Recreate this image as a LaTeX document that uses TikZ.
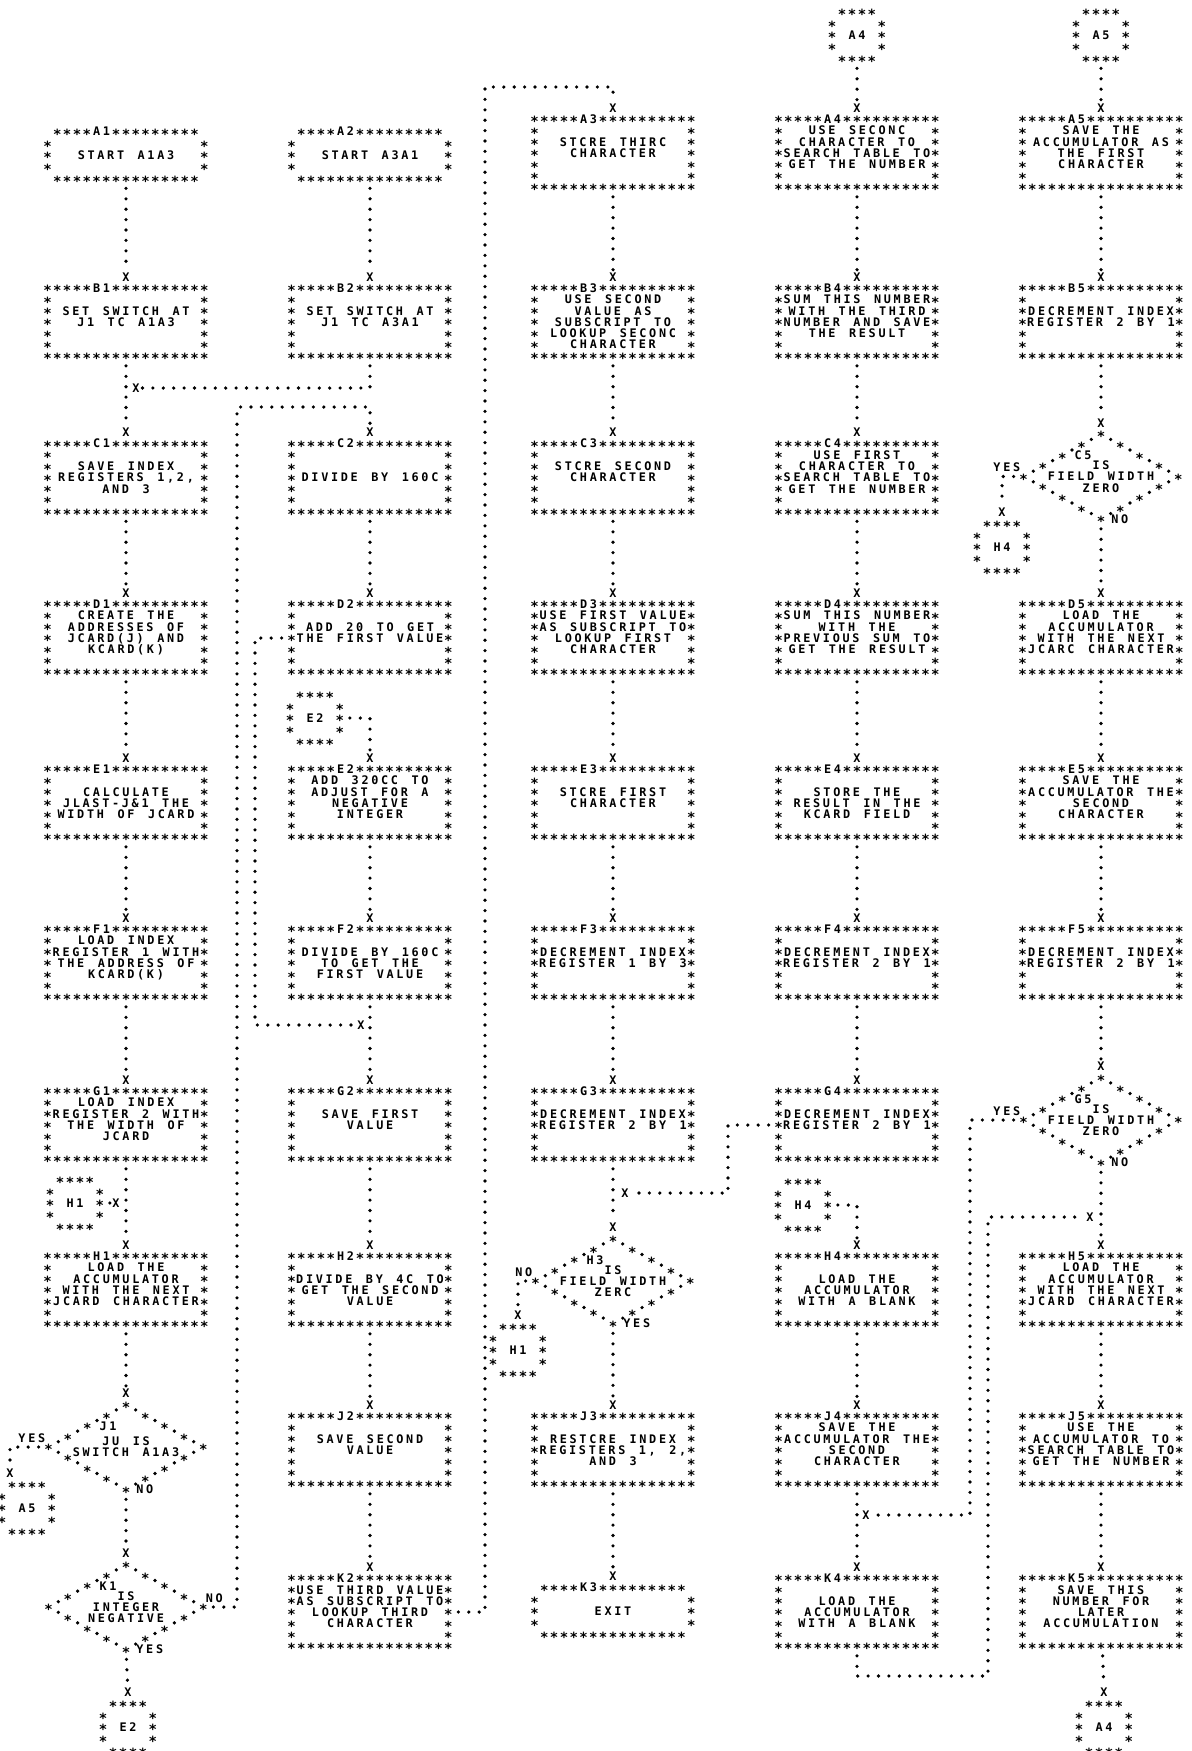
\documentclass[tikz,border=0pt]{standalone}
\usepackage{fontspec}
\newfontfamily\prt[LetterSpace=23,WordSpace=1.38]{DejaVu Sans Mono}
\newfontfamily\astfont{DejaVu Sans Mono}
\usetikzlibrary{calc, positioning}
% printed asterisk frames, one per kind of box
\newcommand\procframe[1]{%
  \foreach \i in {0,1,2,3,4,7,8,...,16}
    {\node[ast] at ($(#1.north west)!\i/16!(#1.north east)$) {*};}
  \node[txt] at ($(#1.north west)!5.5/16!(#1.north east)$) {#1};
  \foreach \i in {0,...,16}
    {\node[ast] at ($(#1.south west)!\i/16!(#1.south east)$) {*};}
  \foreach \j in {1,...,5}
    {\node[ast] at ($(#1.north west)!\j/6!(#1.south west)$) {*};
     \node[ast] at ($(#1.north east)!\j/6!(#1.south east)$) {*};}}
\newcommand\termframe[1]{%
  \foreach \i in {1,2,3,4,7,8,...,15}
    {\node[ast] at ($(#1.north west)!\i/16!(#1.north east)$) {*};}
  \node[txt] at ($(#1.north west)!5.5/16!(#1.north east)$) {#1};
  \foreach \i in {1,...,15}
    {\node[ast] at ($(#1.south west)!\i/16!(#1.south east)$) {*};}
  \foreach \j in {1,2,3}
    {\node[ast] at ($(#1.north west)!\j/4!(#1.south west)$) {*};
     \node[ast] at ($(#1.north east)!\j/4!(#1.south east)$) {*};}}
\newcommand\connframe[1]{%
  \foreach \i in {1,...,4}
    {\node[ast] at ($(#1.north west)!\i/5!(#1.north east)$) {*};
     \node[ast] at ($(#1.south west)!\i/5!(#1.south east)$) {*};}
  \foreach \j in {1,2,3}
    {\node[ast] at ($(#1.north west)!\j/4!(#1.south west)$) {*};
     \node[ast] at ($(#1.north east)!\j/4!(#1.south east)$) {*};}}
\newcommand\decframe[1]{%
  \foreach \k in {0,2,4,6}
    {\node[ast] at ($(#1.north)!\k/8!(#1.west)$) {*};
     \node[ast] at ($(#1.south)!\k/8!(#1.west)$) {*};}
  \foreach \k in {2,4,6}
    {\node[ast] at ($(#1.north)!\k/8!(#1.east)$) {*};
     \node[ast] at ($(#1.south)!\k/8!(#1.east)$) {*};}
  \foreach \k in {1,3,5,7}
    {\node[dotmark] at ($(#1.north)!\k/8!(#1.west)$) {};
     \node[dotmark] at ($(#1.north)!\k/8!(#1.east)$) {};
     \node[dotmark] at ($(#1.south)!\k/8!(#1.west)$) {};
     \node[dotmark] at ($(#1.south)!\k/8!(#1.east)$) {};}
  \node[ast] at (#1.west) {*};
  \node[ast] at (#1.east) {*};
  \node[txt] at ($(#1.center)+(-18,-21)$) {#1};}

\begin{document}
\begin{tikzpicture}[x=0.5pt, y=-0.5pt,
    txt/.style={font=\prt\bfseries\fontsize{5.9pt}{5.6pt}\selectfont, inner sep=0pt, align=center},
    proc/.style={txt, minimum width=78pt, minimum height=33.5pt},
    term/.style={txt, minimum width=78pt, minimum height=23pt},
    dec/.style={txt, minimum width=77pt, minimum height=42pt},
    conn/.style={txt, minimum width=24.5pt, minimum height=23pt},
    ast/.style={font=\astfont\bfseries\fontsize{7pt}{7pt}\selectfont, inner sep=0pt, yshift=-1.3pt},
    dotmark/.style={circle, fill, inner sep=0pt, minimum size=1.8pt},
    xm/.style={txt, inner sep=1.2pt},
    flow/.style={line width=1.8pt, line cap=round, dash pattern=on 0pt off 5.2pt, shorten <=5pt}]
  \useasboundingbox (0,0) rectangle (1191,1751);

  % row A
  \node[term] (A1) at (126,155) {START A1A3};
  \node[term] (A2) at (370,155) {START A3A1};
  \node[proc] (A3) at (613,153) {STCRE THIRC\\CHARACTER\\\mbox{}};
  \node[proc] (A4) at (857,153) {USE SECONC\\CHARACTER TO\\SEARCH TABLE TO\\GET THE NUMBER\\\mbox{}};
  \node[proc] (A5) at (1101,153) {SAVE THE\\ACCUMULATOR AS\\THE FIRST\\CHARACTER\\\mbox{}};
  % row B
  \node[proc] (B1) at (126,322) {SET SWITCH AT\\J1 TC A1A3\\\mbox{}};
  \node[proc] (B2) at (370,322) {SET SWITCH AT\\J1 TC A3A1\\\mbox{}};
  \node[proc] (B3) at (613,322) {USE SECOND\\VALUE AS\\SUBSCRIPT TO\\LOOKUP SECONC\\CHARACTER};
  \node[proc] (B4) at (857,322) {SUM THIS NUMBER\\WITH THE THIRD\\NUMBER AND SAVE\\THE RESULT\\\mbox{}};
  \node[proc] (B5) at (1101,322) {DECREMENT INDEX\\REGISTER 2 BY 1\\\mbox{}};
  % row C
  \node[proc] (C1) at (126,477.5) {SAVE INDEX\\REGISTERS 1,2,\\AND 3};
  \node[proc] (C2) at (370,477.5) {DIVIDE BY 160C};
  \node[proc] (C3) at (613,477.5) {STCRE SECOND\\CHARACTER\\\mbox{}};
  \node[proc] (C4) at (857,477.5) {USE FIRST\\CHARACTER TO\\SEARCH TABLE TO\\GET THE NUMBER\\\mbox{}};
  \node[dec] (C5) at (1101,476.5) {IS\\FIELD WIDTH\\ZERO};
  % row D
  \node[proc] (D1) at (126,638) {CREATE THE\\ADDRESSES OF\\JCARD(J) AND\\KCARD(K)\\\mbox{}};
  \node[proc] (D2) at (370,638) {ADD 20 TO GET\\THE FIRST VALUE\\\mbox{}};
  \node[proc] (D3) at (613,638) {USE FIRST VALUE\\AS SUBSCRIPT TO\\LOOKUP FIRST\\CHARACTER\\\mbox{}};
  \node[proc] (D4) at (857,638) {SUM THIS NUMBER\\WITH THE\\PREVIOUS SUM TO\\GET THE RESULT\\\mbox{}};
  \node[proc] (D5) at (1101,638) {LOAD THE\\ACCUMULATOR\\WITH THE NEXT\\JCARC CHARACTER\\\mbox{}};
  % row E
  \node[proc] (E1) at (126,803) {CALCULATE\\JLAST-J\&1 THE\\WIDTH OF JCARD};
  \node[proc] (E2) at (370,803) {ADD 320CC TO\\ADJUST FOR A\\NEGATIVE\\INTEGER\\\mbox{}};
  \node[proc] (E3) at (613,803) {STCRE FIRST\\CHARACTER\\\mbox{}};
  \node[proc] (E4) at (857,803) {STORE THE\\RESULT IN THE\\KCARD FIELD};
  \node[proc] (E5) at (1101,803) {SAVE THE\\ACCUMULATOR THE\\SECOND\\CHARACTER\\\mbox{}};
  % row F
  \node[proc] (F1) at (126,963) {LOAD INDEX\\REGISTER 1 WITH\\THE ADDRESS OF\\KCARD(K)\\\mbox{}};
  \node[proc] (F2) at (370,963) {DIVIDE BY 160C\\TO GET THE\\FIRST VALUE};
  \node[proc] (F3) at (613,963) {DECREMENT INDEX\\REGISTER 1 BY 3\\\mbox{}};
  \node[proc] (F4) at (857,963) {DECREMENT INDEX\\REGISTER 2 BY 1\\\mbox{}};
  \node[proc] (F5) at (1101,963) {DECREMENT INDEX\\REGISTER 2 BY 1\\\mbox{}};
  % row G
  \node[proc] (G1) at (126,1125) {LOAD INDEX\\REGISTER 2 WITH\\THE WIDTH OF\\JCARD\\\mbox{}};
  \node[proc] (G2) at (370,1125) {SAVE FIRST\\VALUE\\\mbox{}};
  \node[proc] (G3) at (613,1125) {DECREMENT INDEX\\REGISTER 2 BY 1\\\mbox{}};
  \node[proc] (G4) at (857,1125) {DECREMENT INDEX\\REGISTER 2 BY 1\\\mbox{}};
  \node[dec] (G5) at (1101,1120) {IS\\FIELD WIDTH\\ZERO};
  % row H
  \node[proc] (H1) at (126,1290) {LOAD THE\\ACCUMULATOR\\WITH THE NEXT\\JCARD CHARACTER\\\mbox{}};
  \node[proc] (H2) at (370,1290) {DIVIDE BY 4C TO\\GET THE SECOND\\VALUE};
  \node[dec] (H3) at (613,1281) {IS\\FIELD WIDTH\\ZERC};
  \node[proc] (H4) at (857,1290) {LOAD THE\\ACCUMULATOR\\WITH A BLANK};
  \node[proc] (H5) at (1101,1290) {LOAD THE\\ACCUMULATOR\\WITH THE NEXT\\JCARD CHARACTER\\\mbox{}};
  % row J
  \node[dec] (J1) at (126,1447) {JU IS\\SWITCH A1A3};
  \node[proc] (J2) at (370,1450) {SAVE SECOND\\VALUE\\\mbox{}};
  \node[proc] (J3) at (613,1450) {RESTCRE INDEX\\REGISTERS 1, 2,\\AND 3};
  \node[proc] (J4) at (857,1450) {SAVE THE\\ACCUMULATOR THE\\SECOND\\CHARACTER\\\mbox{}};
  \node[proc] (J5) at (1101,1450) {USE THE\\ACCUMULATOR TO\\SEARCH TABLE TO\\GET THE NUMBER\\\mbox{}};
  % row K
  \node[dec] (K1) at (126,1607) {IS\\INTEGER\\NEGATIVE};
  \node[proc] (K2) at (370,1612) {USE THIRD VALUE\\AS SUBSCRIPT TO\\LOOKUP THIRD\\CHARACTER\\\mbox{}};
  \node[term] (K3) at (613,1611) {EXIT};
  \node[proc] (K4) at (857,1612) {LOAD THE\\ACCUMULATOR\\WITH A BLANK};
  \node[proc] (K5) at (1101,1612) {SAVE THIS\\NUMBER FOR\\LATER\\ACCUMULATION\\\mbox{}};

  % off-page connectors
  \node[conn] (onA4) at (857,35) {A4};
  \node[conn] (onA5) at (1101,35) {A5};
  \node[conn] (offH4) at (1002,547) {H4};
  \node[conn] (onE2) at (315,718) {E2};
  \node[conn] (onH1) at (75,1203) {H1};
  \node[conn] (onH4) at (803,1205) {H4};
  \node[conn] (offH1) at (518,1350) {H1};
  \node[conn] (offA5) at (27,1508) {A5};
  \node[conn] (offE2) at (128,1727) {E2};
  \node[conn] (offA4) at (1104,1727) {A4};

  % entry marks
  \foreach \n in {B1,C1,D1,E1,F1,G1,H1,J1,K1,B2,C2,D2,E2,F2,G2,H2,J2,K2,
      A3,B3,C3,D3,E3,F3,G3,H3,J3,K3,A4,B4,C4,D4,E4,F4,G4,H4,J4,K4,
      A5,B5,C5,D5,E5,F5,G5,H5,J5,K5,offH4,offH1,offE2,offA4}
    \node[xm] (x\n) at ($(\n.north)+(0,-11)$) {X};
  \node[xm] (xoffA5) at (10,1473) {X};
  \node[xm] (jC1) at (136,388) {X};
  \node[xm] (jG2) at (361,1025) {X};
  \node[xm] (jH1) at (116,1203) {X};
  \node[xm] (jH3) at (625,1193) {X};
  \node[xm] (jK4) at (866,1515) {X};
  \node[xm] (jH5) at (1090,1217) {X};
  \coordinate (kb) at (237,407);
  \coordinate (db) at (255,1025);
  \coordinate (kt) at (485,87);
  \coordinate (gb) at (728,1193);
  \coordinate (yb) at (970,1515);
  \coordinate (kb2) at (988,1676);

  % branch labels
  \node[txt, above left=2pt and 1.5pt of C5.west] (yC5) {YES};
  \node[txt, right=5pt of C5.south] (nC5) {NO};
  \node[txt, above left=2pt and 1.5pt of G5.west] (yG5) {YES};
  \node[txt, right=5pt of G5.south] (nG5) {NO};
  \node[txt, above left=2pt and 1.5pt of H3.west] (nH3) {NO};
  \node[txt, right=5pt of H3.south] (yH3) {YES};
  \node[txt, above left=2pt and 1.5pt of J1.west] (yJ1) {YES};
  \node[txt, right=5pt of J1.south] (nJ1) {NO};
  \node[txt, above right=2pt and 1pt of K1.east] (nK1) {NO};
  \node[txt, right=5pt of K1.south] (yK1) {YES};

  % frames
  \foreach \n in {A3,A4,A5,B1,B2,B3,B4,B5,C1,C2,C3,C4,D1,D2,D3,D4,D5,
      E1,E2,E3,E4,E5,F1,F2,F3,F4,F5,G1,G2,G3,G4,H1,H2,H4,H5,
      J2,J3,J4,J5,K2,K4,K5}
    {\procframe{\n}}
  \foreach \n in {A1,A2,K3} {\termframe{\n}}
  \foreach \n in {C5,G5,H3,J1,K1} {\decframe{\n}}
  \foreach \n in {onA4,onA5,offH4,onE2,onH1,onH4,offH1,offA5,offE2,offA4} {\connframe{\n}}

  % column 1
  \draw[flow] (A1) -- (xB1);
  \draw[flow] (B1) -- (xC1);
  \draw[flow] (B2) |- (jC1);
  \draw[flow] (C1) -- (xD1);
  \draw[flow] (D1) -- (xE1);
  \draw[flow] (E1) -- (xF1);
  \draw[flow] (F1) -- (xG1);
  \draw[flow] (G1) -- (xH1);
  \draw[flow] (onH1) -- (jH1);
  \draw[flow] (H1) -- (xJ1);
  \draw[flow] (J1.west) -| (xoffA5);
  \draw[flow] (J1.south) -- (xK1);
  \draw[flow] (K1.south) -- (xoffE2);
  \draw[flow] (K1.east) -| (kb) -| (xC2);
  % column 2
  \draw[flow] (A2) -- (xB2);
  \draw[flow] (C2) -- (xD2);
  \draw[flow] (D2.west) -| (db) -- (jG2);
  \draw[flow] (onE2) -| (xE2);
  \draw[flow] (E2) -- (xF2);
  \draw[flow] (F2) -- (xG2);
  \draw[flow] (G2) -- (xH2);
  \draw[flow] (H2) -- (xJ2);
  \draw[flow] (J2) -- (xK2);
  \draw[flow] (K2.east) -| (kt) -| (xA3);
  % column 3
  \draw[flow] (A3) -- (xB3);
  \draw[flow] (B3) -- (xC3);
  \draw[flow] (C3) -- (xD3);
  \draw[flow] (D3) -- (xE3);
  \draw[flow] (E3) -- (xF3);
  \draw[flow] (F3) -- (xG3);
  \draw[flow] (G3) -- (xH3);
  \draw[flow] (G4.west) -| (gb) -- (jH3);
  \draw[flow] (H3.west) -| (xoffH1);
  \draw[flow] (H3.south) -- (xJ3);
  \draw[flow] (J3) -- (xK3);
  % column 4
  \draw[flow] (onA4) -- (xA4);
  \draw[flow] (A4) -- (xB4);
  \draw[flow] (B4) -- (xC4);
  \draw[flow] (C4) -- (xD4);
  \draw[flow] (D4) -- (xE4);
  \draw[flow] (E4) -- (xF4);
  \draw[flow] (F4) -- (xG4);
  \draw[flow] (onH4) -| (xH4);
  \draw[flow] (H4) -- (xJ4);
  \draw[flow] (J4) -- (xK4);
  \draw[flow] (G5.west) -| (yb) -- (jK4);
  \draw[flow] (K4) |- (kb2) |- (jH5);
  % column 5
  \draw[flow] (onA5) -- (xA5);
  \draw[flow] (A5) -- (xB5);
  \draw[flow] (B5) -- (xC5);
  \draw[flow] (C5.west) -| (xoffH4);
  \draw[flow] (C5.south) -- (xD5);
  \draw[flow] (D5) -- (xE5);
  \draw[flow] (E5) -- (xF5);
  \draw[flow] (F5) -- (xG5);
  \draw[flow] (G5.south) -- (xH5);
  \draw[flow] (H5) -- (xJ5);
  \draw[flow] (J5) -- (xK5);
  \draw[flow] (K5) -- (xoffA4);
\end{tikzpicture}
\end{document}
